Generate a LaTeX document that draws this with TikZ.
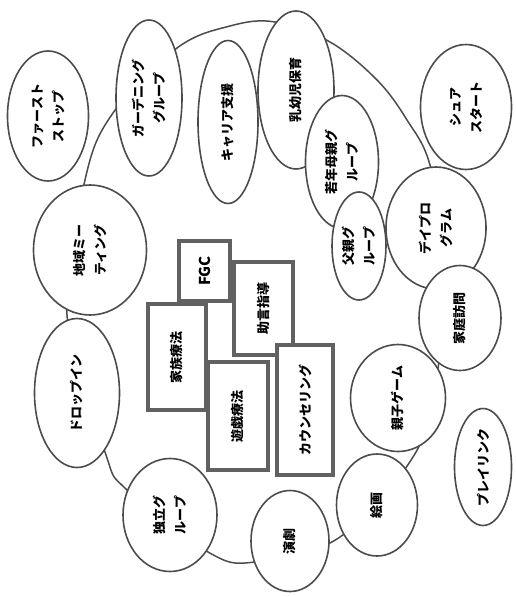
\documentclass[tikz,border=0pt]{standalone}
\usepackage{fontspec}
\setmainfont{Noto Sans CJK JP}
\usetikzlibrary{shapes.geometric}
\begin{document}
\begin{tikzpicture}[x=1pt,y=-1pt,
  ringline/.style={draw=black!70, line width=1.5pt},
  bub/.style={ellipse, draw=black!70, line width=1.6pt, fill=white, inner sep=0pt,
    rotate=90, font=\fontsize{13}{21}\selectfont\bfseries, align=center},
  bx/.style={rectangle, draw=black!62, line width=4pt, fill=white, inner sep=0pt,
    rotate=90, font=\fontsize{13}{21}\selectfont\bfseries, align=center}]
\useasboundingbox (0,0) rectangle (515,597);
% ring
\draw[ringline] plot[smooth cycle, tension=0.6] coordinates {(177,48) (230,26) (275,22) (330,42) (377,80) (407,120) (430,165) (447,260) (438,368) (416,452) (340,537) (255,562) (208,552) (127,490) (105,452) (67,315) (85,180) (113,113)};
% bubbles: minimum width = vertical extent, minimum height = horizontal extent
\node[bub, minimum width=130pt, minimum height=81pt] (first) at (48,116) {ファースト\\ストップ};
\node[bub, minimum width=156pt, minimum height=66pt] (garden) at (149,98) {ガーデニング\\グループ};
\node[bub, minimum width=163pt, minimum height=60pt] (career) at (228,122) {キャリア支援};
\node[bub, minimum width=158pt, minimum height=76pt] (nyuyoji) at (296,90) {乳幼児保育};
\node[bub, minimum width=133pt, minimum height=73pt] (jakunen) at (342,162) {若年母親グ\\ループ};
\node[bub, minimum width=108pt, minimum height=54pt] (chichi) at (359,246) {父親グ\\ループ};
\node[bub, minimum width=122pt, minimum height=100pt] (day) at (436,228) {デイプロ\\グラム};
\node[bub, minimum width=125pt, minimum height=91pt] (sure) at (466,107) {シュア\\スタート};
\node[bub, minimum width=105pt, minimum height=82pt] (katei) at (460,318) {家庭訪問};
\node[bub, minimum width=107pt, minimum height=95pt] (oyako) at (398,398) {親子ゲーム};
\node[bub, minimum width=117pt, minimum height=57pt] (play) at (483,467) {プレイリンク};
\node[bub, minimum width=102pt, minimum height=81pt] (kaiga) at (377,505) {絵画};
\node[bub, minimum width=101pt, minimum height=78pt] (engeki) at (290,541) {演劇};
\node[bub, minimum width=113pt, minimum height=94pt] (dokuritsu) at (170,515) {独立グ\\ループ};
\node[bub, minimum width=149pt, minimum height=85pt] (dropin) at (77,393) {ドロップイン};
\node[bub, minimum width=130pt, minimum height=113pt] (chiiki) at (90,250) {地域ミー\\ティング};
% boxes
\node[bx, minimum width=60pt, minimum height=51pt, font=\fontsize{15}{16}\selectfont\bfseries] (fgc) at (204.5,271) {FGC};
\node[bx, minimum width=93pt, minimum height=59pt] (jogen) at (263.5,308.5) {助言指導};
\node[bx, minimum width=106pt, minimum height=58pt] (kazoku) at (177,357) {家族療法};
\node[bx, minimum width=108pt, minimum height=60pt] (yugi) at (238,416) {遊戯療法};
\node[bx, minimum width=130pt, minimum height=56pt] (counsel) at (305,410) {カウンセリング};
\end{tikzpicture}
\end{document}
